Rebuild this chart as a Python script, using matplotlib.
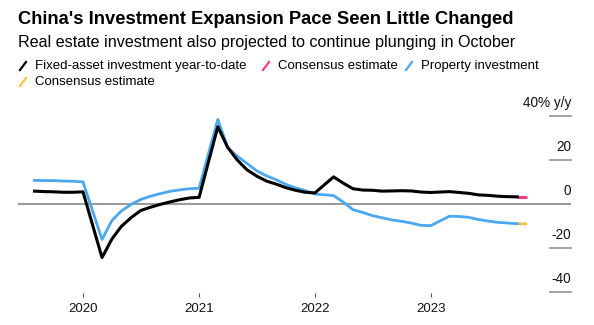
import matplotlib
matplotlib.use("Agg")
import matplotlib.pyplot as plt
import matplotlib.dates as mdates
from matplotlib.lines import Line2D
import pandas as pd

plt.rcParams['font.family'] = ['Liberation Sans', 'DejaVu Sans']

# year-to-date data, month-end dates (China reports Jan-Feb together)
months = ["2019-07", "2019-08", "2019-09", "2019-10", "2019-11", "2019-12",
          "2020-02", "2020-03", "2020-04", "2020-05", "2020-06", "2020-07",
          "2020-08", "2020-09", "2020-10", "2020-11", "2020-12",
          "2021-02", "2021-03", "2021-04", "2021-05", "2021-06", "2021-07",
          "2021-08", "2021-09", "2021-10", "2021-11", "2021-12",
          "2022-02", "2022-03", "2022-04", "2022-05", "2022-06", "2022-07",
          "2022-08", "2022-09", "2022-10", "2022-11", "2022-12",
          "2023-02", "2023-03", "2023-04", "2023-05", "2023-06", "2023-07",
          "2023-08", "2023-09"]
fai = [5.7, 5.5, 5.4, 5.2, 5.2, 5.4,
       -24.5, -16.1, -10.3, -6.3, -3.1, -1.6, -0.3, 0.8, 1.8, 2.6, 2.9,
       35.0, 25.6, 19.9, 15.4, 12.6, 10.3, 8.9, 7.3, 6.1, 5.2, 4.9,
       12.2, 9.3, 6.8, 6.2, 6.1, 5.7, 5.8, 5.9, 5.8, 5.3, 5.1,
       5.5, 5.1, 4.7, 4.0, 3.8, 3.4, 3.2, 3.1]
prop = [10.6, 10.5, 10.5, 10.3, 10.2, 9.9,
        -16.3, -7.7, -3.3, -0.3, 1.9, 3.4, 4.6, 5.6, 6.3, 6.8, 7.0,
        38.3, 25.6, 21.6, 18.3, 15.0, 12.7, 10.9, 8.8, 7.2, 6.0, 4.4,
        3.7, 0.7, -2.7, -4.0, -5.4, -6.4, -7.4, -8.0, -8.8, -9.8, -10.0,
        -5.7, -5.8, -6.2, -7.2, -7.9, -8.5, -8.8, -9.1]
est_months = ["2023-09", "2023-10"]
fai_est = [3.1, 3.1]
prop_est = [-9.1, -9.2]

yticks = [40, 20, 0, -20, -40]
ylabels = ["40% y/y", "20", "0", "-20", "-40"]
years = ["2020", "2021", "2022", "2023"]

BLACK = "#000000"
PINK = "#ec3f8a"
BLUE = "#4aa8f0"
YELLOW = "#f6c244"
GRAY = "#9b9b9b"

W, H = 594, 325
fig = plt.figure(figsize=(W / 100, H / 100), dpi=100)


def fx(x):
    return x / W


def fy(y):
    return 1 - y / H


def mend(ms):
    return pd.to_datetime(ms) + pd.offsets.MonthEnd(0)


ax = fig.add_axes([fx(18), fy(293), fx(571) - fx(18), fy(105) - fy(293)])

d = mend(months)
de = mend(est_months)
ax.axhline(0, color=GRAY, lw=1.5, zorder=1)
ax.plot(de, prop_est, color=YELLOW, lw=2.0, zorder=2, solid_capstyle='butt')
ax.plot(d, prop, color=BLUE, lw=2.0, zorder=3)
ax.plot(de, fai_est, color=PINK, lw=2.2, zorder=2, solid_capstyle='butt')
ax.plot(d, fai, color=BLACK, lw=2.2, zorder=4)

t0 = mdates.date2num(pd.Timestamp("2020-01-01"))
t1 = mdates.date2num(pd.Timestamp("2023-01-01"))
ppd = (431 - 83.3) / (t1 - t0)
ax.set_xlim(t0 + (18 - 83.3) / ppd, t0 + (571 - 83.3) / ppd)
ax.set_ylim(-40 - 1.3 / 2.2, 40 + 10.7 / 2.2)

for s in ax.spines.values():
    s.set_visible(False)
ax.set_yticks([])
ax.set_xticks([pd.Timestamp(y + "-01-01") for y in years])
ax.set_xticklabels(years)
ax.tick_params(axis='x', length=3, width=0.8, color="#555555", pad=4,
               labelsize=9.5, labelcolor="#111111")

trans = ax.get_yaxis_transform()
for v, lab in zip(yticks, ylabels):
    if v != 0:
        ax.plot([(550 - 18) / (571 - 18), 1.0], [v, v], color=GRAY, lw=1.3,
                transform=trans, clip_on=False)
    ax.annotate(lab, xy=(1.0, v), xycoords=trans, xytext=(0, 9),
                textcoords='offset points', ha='right', va='center',
                fontsize=9.8, color="#111111")

fig.text(fx(18), fy(19), "China's Investment Expansion Pace Seen Little Changed",
         fontsize=13.25, fontweight='bold', va='center', ha='left')
fig.text(fx(18), fy(43), "Real estate investment also projected to continue plunging in October",
         fontsize=11.6, va='center', ha='left')

legend = [(18, 66, BLACK, "Fixed-asset investment year-to-date"),
          (261, 66, PINK, "Consensus estimate"),
          (404, 66, BLUE, "Property investment"),
          (18, 82, YELLOW, "Consensus estimate")]
for x, y, c, lab in legend:
    fig.add_artist(Line2D([fx(x + 2), fx(x + 8)], [fy(y + 4), fy(y - 4)],
                          color=c, lw=1.6, transform=fig.transFigure))
    fig.text(fx(x + 17), fy(y), lab, fontsize=9.5, va='center', ha='left')

fig.savefig("out.png", dpi=100)
